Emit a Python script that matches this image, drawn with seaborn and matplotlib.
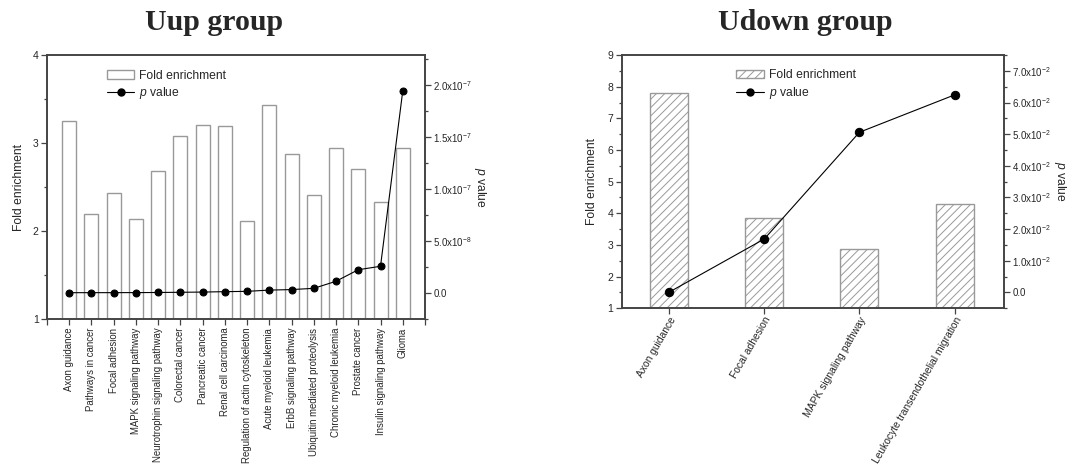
import numpy as np
import matplotlib
matplotlib.use("Agg")
import matplotlib.pyplot as plt
from matplotlib.patches import Patch
from matplotlib.lines import Line2D
from matplotlib.ticker import FixedLocator, MultipleLocator
import seaborn as sns

# ---------------- data ----------------
up_pathways = ["Axon guidance", "Pathways in cancer", "Focal adhesion",
               "MAPK signaling pathway", "Neurotrophin signaling pathway",
               "Colorectal cancer", "Pancreatic cancer", "Renal cell carcinoma",
               "Regulation of actin cytoskeleton", "Acute myeloid leukemia",
               "ErbB signaling pathway", "Ubiquitin mediated proteolysis",
               "Chronic myeloid leukemia", "Prostate cancer",
               "Insulin signaling pathway", "Glioma"]
up_fold = [3.25, 2.20, 2.43, 2.135, 2.68, 3.08, 3.20, 3.19,
           2.12, 3.43, 2.88, 2.41, 2.94, 2.71, 2.33, 2.94]
up_p = [1e-11, 3e-11, 5e-11, 1e-10, 2e-10, 4e-10, 6e-10, 1.0e-9,
        1.3e-9, 2.5e-9, 3.0e-9, 4.2e-9, 1.1e-8, 2.21e-8, 2.54e-8, 1.94e-7]
up_p_ticks = [0.0, 5e-8, 1e-7, 1.5e-7, 2e-7]
up_p_tick_labels = ["0.0", "5.0x10$^{-8}$", "1.0x10$^{-7}$",
                    "1.5x10$^{-7}$", "2.0x10$^{-7}$"]

down_pathways = ["Axon guidance", "Focal adhesion", "MAPK signaling pathway",
                 "Leukocyte transendothelial migration"]
down_fold = [7.8, 3.86, 2.88, 4.28]
down_p = [0.0001, 0.0169, 0.0506, 0.0624]
down_p_ticks = [0.0, 0.01, 0.02, 0.03, 0.04, 0.05, 0.06, 0.07]
down_p_tick_labels = ["0.0", "1.0x10$^{-2}$", "2.0x10$^{-2}$", "3.0x10$^{-2}$",
                      "4.0x10$^{-2}$", "5.0x10$^{-2}$", "6.0x10$^{-2}$",
                      "7.0x10$^{-2}$"]

# ---------------- style ----------------
sns.set_style("ticks")
plt.rcParams["font.family"] = ["Liberation Sans", "DejaVu Sans"]
plt.rcParams["mathtext.fontset"] = "custom"
plt.rcParams["mathtext.rm"] = "Liberation Sans"
plt.rcParams["mathtext.it"] = "Liberation Sans:italic"
plt.rcParams["mathtext.bf"] = "Liberation Sans:bold"
plt.rcParams["hatch.color"] = "#777777"
plt.rcParams["hatch.linewidth"] = 0.7

SPINE = "#444444"
BAR_EDGE = "#999999"

fig = plt.figure(figsize=(10.77, 4.65), dpi=100)
ax1 = fig.add_axes([0.0436, 0.3133, 0.351, 0.5684])
ax3 = fig.add_axes([0.5772, 0.337, 0.355, 0.5447])


def style_axes(ax, ax2):
    for a in (ax, ax2):
        for s in a.spines.values():
            s.set_visible(True)
            s.set_color(SPINE)
            s.set_linewidth(1.2)
        a.tick_params(which="both", direction="out", color=SPINE,
                      labelsize=7.5, pad=2)
        a.tick_params(which="major", length=4, width=0.9)
        a.tick_params(which="minor", length=2.5, width=0.9)
    ax2.tick_params(axis="y", labelsize=7)


# ---------------- left panel: Uup ----------------
n_up = len(up_pathways)
x_up = np.arange(n_up)
sns.barplot(x=x_up, y=up_fold, ax=ax1, color="white", edgecolor=BAR_EDGE,
            linewidth=1.0, width=0.63, native_scale=True)
ax1.set_xlim(-1, n_up)
ax1.set_ylim(1, 4)
ax1.yaxis.set_major_locator(MultipleLocator(1))
ax1.yaxis.set_minor_locator(MultipleLocator(0.5))
ax1.set_xticks(np.arange(-1, n_up + 1))
ax1.set_xticklabels([""] + up_pathways + [""], rotation=90)
ax1.set_xlabel("")
ax1.set_ylabel("Fold enrichment", fontsize=8.7, va="center")
ax1.yaxis.set_label_coords(-0.074, 0.5)

ax2 = ax1.twinx()
sns.lineplot(x=x_up, y=up_p, ax=ax2, color="black", linewidth=0.8,
             marker="o", markersize=5, markeredgecolor="black")
ax2.set_ylim(-2.56e-8, 2.286e-7)
ax2.yaxis.set_major_locator(FixedLocator(up_p_ticks))
ax2.yaxis.set_minor_locator(MultipleLocator(2.5e-8))
ax2.set_yticklabels(up_p_tick_labels)
ax2.set_ylabel("$p$ value", fontsize=8.7, rotation=270, va="center")
ax2.yaxis.set_label_coords(1.146, 0.5)
style_axes(ax1, ax2)
ax1.tick_params(axis="x", labelsize=6.9)

h1 = [Patch(facecolor="white", edgecolor=BAR_EDGE, linewidth=1.0),
      Line2D([0], [0], color="black", linewidth=0.8, marker="o", markersize=5)]
ax2.legend(h1, ["Fold enrichment", "$p$ value"], loc="upper left",
           bbox_to_anchor=(0.158, 0.945), frameon=False, fontsize=8.7,
           handlelength=2.3, handletextpad=0.4, labelspacing=0.3,
           borderaxespad=0, borderpad=0)

fig.text(0.199, 0.952, "Uup group", ha="center", va="center",
         fontsize=21.5, fontweight="bold", family="Liberation Serif")

# ---------------- right panel: Udown ----------------
n_dn = len(down_pathways)
x_dn = np.arange(n_dn)
sns.barplot(x=x_dn, y=down_fold, ax=ax3, color="white", edgecolor=BAR_EDGE,
            linewidth=1.0, width=0.4, native_scale=True, hatch="////")
ax3.set_xlim(-0.5, n_dn - 0.48)
ax3.set_ylim(1, 9)
ax3.yaxis.set_major_locator(MultipleLocator(1))
ax3.yaxis.set_minor_locator(MultipleLocator(0.5))
ax3.set_xticks(x_dn)
ax3.set_xticklabels(down_pathways, rotation=60, ha="right",
                    rotation_mode="anchor")
ax3.set_xlabel("")
ax3.set_ylabel("Fold enrichment", fontsize=8.7, va="center")
ax3.yaxis.set_label_coords(-0.078, 0.5)

ax4 = ax3.twinx()
sns.lineplot(x=x_dn, y=down_p, ax=ax4, color="black", linewidth=0.8,
             marker="o", markersize=6, markeredgecolor="black")
ax4.set_ylim(-0.005, 0.075)
ax4.yaxis.set_major_locator(FixedLocator(down_p_ticks))
ax4.yaxis.set_minor_locator(MultipleLocator(0.005))
ax4.set_yticklabels(down_p_tick_labels)
ax4.set_ylabel("$p$ value", fontsize=8.7, rotation=270, va="center")
ax4.yaxis.set_label_coords(1.146, 0.5)
style_axes(ax3, ax4)
ax3.tick_params(axis="x", labelsize=7.4, pad=1)

h2 = [Patch(facecolor="white", edgecolor=BAR_EDGE, linewidth=1.0, hatch="////"),
      Line2D([0], [0], color="black", linewidth=0.8, marker="o", markersize=5)]
ax4.legend(h2, ["Fold enrichment", "$p$ value"], loc="upper left",
           bbox_to_anchor=(0.30, 0.943), frameon=False, fontsize=8.7,
           handlelength=2.3, handletextpad=0.4, labelspacing=0.3,
           borderaxespad=0, borderpad=0)

fig.text(0.748, 0.952, "Udown group", ha="center", va="center",
         fontsize=21.5, fontweight="bold", family="Liberation Serif")

fig.savefig("out.png", dpi=100, facecolor="white")
